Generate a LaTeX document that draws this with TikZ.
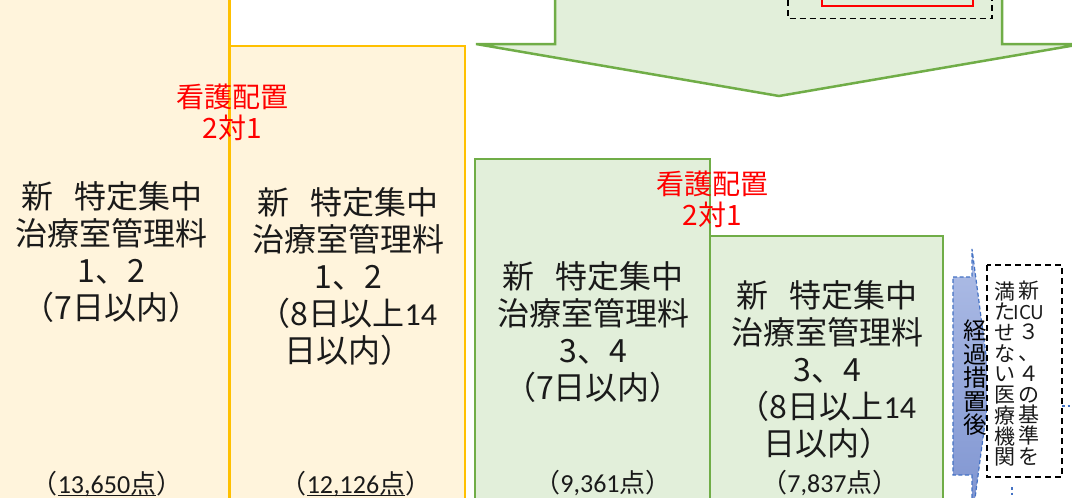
\documentclass[tikz,border=0pt]{standalone}
\usepackage{fontspec}
\setmainfont{Noto Sans CJK JP}
\newfontfamily\carl{Carlito}
\newcommand\myul[1]{\setbox0\hbox{#1}\rlap{\rule[-3pt]{\wd0}{1.4pt}}\box0}
\definecolor{cream}{HTML}{FFF4DC}
\definecolor{orng}{HTML}{FFC000}
\definecolor{lgreen}{HTML}{E2EFDA}
\definecolor{dgreen}{HTML}{70AD47}
\definecolor{bblue}{HTML}{4472C4}
\definecolor{btop}{HTML}{AEBDE6}
\definecolor{bbot}{HTML}{7D93D0}
\definecolor{txt}{HTML}{1A1A1A}
\tikzset{
  obox/.style={fill=cream, draw=orng, line width=2.5pt},
  gbox/.style={fill=lgreen, draw=dgreen, line width=2.5pt},
  maintext/.style={font=\fontsize{32}{37}\selectfont, align=center, text=txt, inner sep=0pt},
  redtext/.style={font=\fontsize{28}{31}\selectfont, align=center, text=red, inner sep=0pt},
  pts/.style={font=\fontsize{26}{30}\selectfont, text=txt, inner sep=0pt},
  vtext/.style={font=\fontsize{23.5}{23.5}\selectfont, align=center, text=black, inner sep=0pt},
  ctext/.style={font=\fontsize{21}{20.7}\selectfont, align=center, text=txt, inner sep=0pt},
  bdots/.style={draw=bblue, line width=2.5pt, dash pattern=on 2.5pt off 3pt},
  kdash/.style={draw=black, line width=1.5pt, dash pattern=on 6pt off 4pt},
}
\begin{document}
\begin{tikzpicture}[x=1pt,y=-1pt]
\clip (0,0) rectangle (1072,498);
\fill[white] (0,0) rectangle (1072,498);
% orange boxes
\path[obox] (-10,-10) rectangle (229.5,520);
\path[obox] (229.5,46) rectangle (465,520);
% green boxes
\path[gbox] (475,159) rectangle (710,520);
\path[gbox] (710,236) rectangle (943,520);
% big down arrow
\path[fill=lgreen, draw=dgreen, line width=2.5pt, line join=miter]
  (555,-10) -- (555,44) -- (476,44) -- (779,96) -- (1082,44) -- (1002,44) -- (1002,-10) -- cycle;
\path[kdash] (788,-10) rectangle (992,18.3);
\path[draw=red, line width=1.5pt] (822,-10) rectangle (973,6);
% blue transitional arrow
\path[top color=btop, bottom color=bbot, draw=bblue, line width=1.2pt, dash pattern=on 4pt off 2.5pt]
  (953,277) -- (972,277) -- (972,249) -- (990,385) -- (972,521) -- (972,475) -- (953,475) -- cycle;
\node[vtext] (keika) at (975,378) {経\\過\\措\\置\\後};
% dashed box ICU
\path[kdash, fill=white] (987,265) rectangle (1062,477);
\node[ctext] (colR) at (1029,373) {新\\{\fontsize{19}{20.7}\selectfont ICU}\\３\\、\\４\\の\\基\\準\\を};
\node[ctext] (colL) at (1005,374) {満\\た\\せ\\な\\い\\医\\療\\機\\関};
\coordinate (icuR) at (1062,406);
\coordinate (offR) at (1075,406);
\coordinate (icuB) at (1012,487);
\coordinate (offB) at (1012,500);
\draw[bdots] (icuR) -- (offR);
\draw[bdots] (icuB) -- (offB);
% texts
\node[maintext] (t1) at (111.7,252) {新\hspace{0.65em}特定集中\\治療室管理料\\1、2\\（7日以内）};
\node[maintext] (t2) at (348,277) {新\hspace{0.65em}特定集中\\治療室管理料\\1、2\\（8日以上{\carl 14}\\日以内）};
\node[maintext] (t3) at (593,332) {新\hspace{0.65em}特定集中\\治療室管理料\\3、4\\（7日以内）};
\node[maintext] (t4) at (827,370) {新\hspace{0.65em}特定集中\\治療室管理料\\3、4\\（8日以上{\carl 14}\\日以内）};
\node[redtext] (r1) at (232,112.5) {看護配置\\2対1};
\node[redtext] (r2) at (712,199) {看護配置\\2対1};
\node[pts] (p1) at (107,484) {（\myul{{\carl 13,650}点}）};
\node[pts] (p2) at (356,484) {（\myul{{\carl 12,126}点}）};
\node[pts] (p3) at (603,483) {（{\carl 9,361}点）};
\node[pts] (p4) at (830,483) {（{\carl 7,837}点）};
\end{tikzpicture}
\end{document}
